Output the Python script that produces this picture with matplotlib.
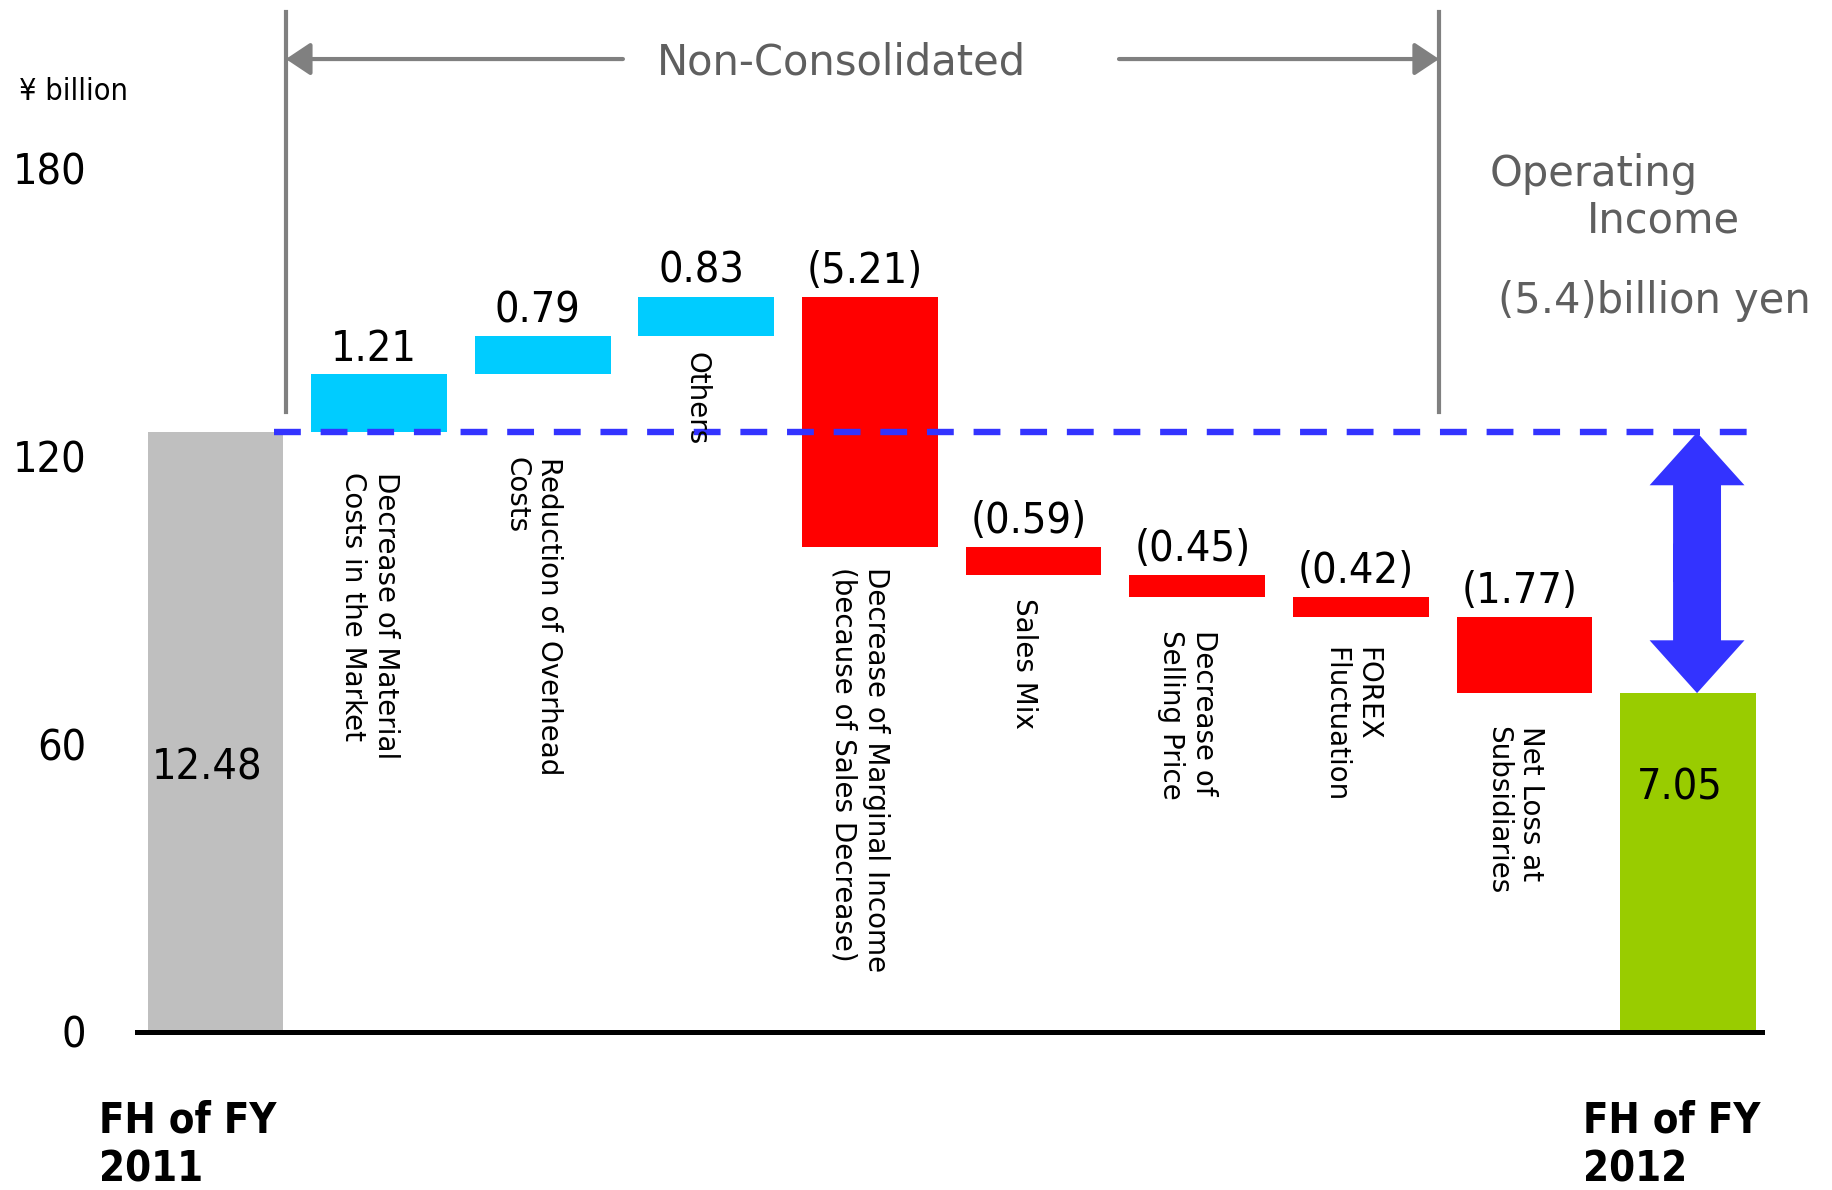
import numpy as np
import matplotlib
matplotlib.use('Agg')
import matplotlib.pyplot as plt

# values in ¥ billion (axis is drawn in units of ¥100 million, hence x10)
start_value = 12.48
end_value = 7.05
changes = [1.21, 0.79, 0.83, -5.21, -0.59, -0.45, -0.42, -1.77]
change_labels = ['1.21', '0.79', '0.83', '(5.21)', '(0.59)', '(0.45)', '(0.42)', '(1.77)']
categories = [
    'Decrease of Material\nCosts in the Market',
    'Reduction of Overhead\nCosts',
    'Others',
    'Decrease of Marginal Income\n(because of Sales Decrease)',
    'Sales Mix',
    'Decrease of\nSelling Price',
    'FOREX\nFluctuation',
    'Net Loss at\nSubsidiaries',
]
period_labels = ['FH of FY\n2011', 'FH of FY\n2012']
y_ticks = [0, 60, 120, 180]

# layout: how far below each bar its rotated label starts (axis units)
label_drop = [8.2, 17.2, 3.2, 4.2, 4.8, 7.0, 6.3, 6.9]

GRAY = '#bfbfbf'
CYAN = '#00ccff'
RED = '#ff0000'
GREEN = '#99cc00'
BLUE = '#3333ff'
LINE_GRAY = '#808080'
TEXT_GRAY = '#5f5f5f'

scale = 10
start = start_value * scale
end = end_value * scale
steps = np.array(changes) * scale
levels = start + np.cumsum(steps)
levels[-1] = end  # published figures are rounded; last step lands on the reported total
prev = np.concatenate([[start], levels[:-1]])

fig = plt.figure(figsize=(18.32, 11.9), dpi=100)
ax = fig.add_axes([137 / 1832, 1 - 1031.5 / 1190, 1625 / 1832, 1031.5 / 1190])
ax.set_xlim(-0.48, 9.452)
ax.set_ylim(0, 214.9)

width = 0.83
n = len(changes)
xs = np.arange(1, n + 1)

ax.bar(0, start, width=width, color=GRAY)
colors = [CYAN if s > 0 else RED for s in steps]
ax.bar(xs, levels - prev, bottom=prev, width=width, color=colors)
ax.bar(n + 1, end, width=width, color=GREEN)

NUM = dict(fontsize=31, fontstretch='condensed')

# value labels
for x, lo, hi, lab in zip(xs, prev, levels, change_labels):
    ax.annotate(lab, (x - 0.03, max(lo, hi)), xytext=(0, 10), textcoords='offset points',
                ha='center', va='baseline', **NUM)
ax.text(-0.05, start * 0.44, f'{start_value:.2f}', ha='center', va='center', **NUM)
ax.text(n + 0.95, end * 0.72, f'{end_value:.2f}', ha='center', va='center', **NUM)

# rotated category labels
for x, lo, hi, lab, d in zip(xs, prev, levels, categories, label_drop):
    ax.text(x - 0.06, min(lo, hi) - d, lab, rotation=270, ha='center', va='top',
            multialignment='left', fontsize=20)

# dashed reference at starting level and double arrow to the result
ax.plot([0.357, 9.43], [start, start], color=BLUE, lw=4.6, ls=(0, (4.2, 3.1)))
mid = (start + end) / 2
for tip, base in ((start, mid - 4), (end, mid + 4)):
    ax.arrow(9.055, base, 0, tip - base, width=0.293, head_width=0.58, head_length=11,
             length_includes_head=True, color=BLUE, lw=0)

# Non-Consolidated bracket
for xv in (0.43, 7.478):
    ax.plot([xv, xv], [129.1, 212.4], color=LINE_GRAY, lw=3, clip_on=False)
arrow_kw = dict(arrowstyle='-|>,head_length=0.75,head_width=0.5', color=LINE_GRAY,
                lw=3, mutation_scale=20, shrinkA=0, shrinkB=0)
ax.annotate('', xy=(0.43, 202.6), xytext=(2.49, 202.6), arrowprops=arrow_kw)
ax.annotate('', xy=(7.478, 202.6), xytext=(5.522, 202.6), arrowprops=arrow_kw)
ax.text(3.825, 199.3, 'Non-Consolidated', ha='center', va='baseline', fontsize=30,
        color=TEXT_GRAY)

ax.text(7.79, 176.1, 'Operating', ha='left', va='baseline', fontsize=30, color=TEXT_GRAY)
ax.text(8.383, 166.4, 'Income', ha='left', va='baseline', fontsize=30, color=TEXT_GRAY)
ax.text(7.84, 149.7, '(5.4)billion yen', ha='left', va='baseline', fontsize=30, color=TEXT_GRAY)

ax.text(-1.202, 194.1, '¥ billion', ha='left', va='baseline', fontsize=22,
        fontstretch='condensed')

# period labels under the axis
for xv, lab in zip((-0.713, 8.358), period_labels):
    ax.text(xv, -14.2, lab, ha='left', va='top', fontsize=30, fontweight='bold',
            fontstretch='condensed', linespacing=1.22)

# axis styling
for side in ('top', 'right', 'left'):
    ax.spines[side].set_visible(False)
ax.spines['bottom'].set_linewidth(3.6)
ax.spines['bottom'].set_color('black')
ax.set_xticks([])
ax.set_yticks(y_ticks)
ax.tick_params(axis='y', length=0, pad=36.7, labelsize=31)
for lbl in ax.get_yticklabels():
    lbl.set_fontstretch('condensed')

fig.savefig('out.png', dpi=100)
